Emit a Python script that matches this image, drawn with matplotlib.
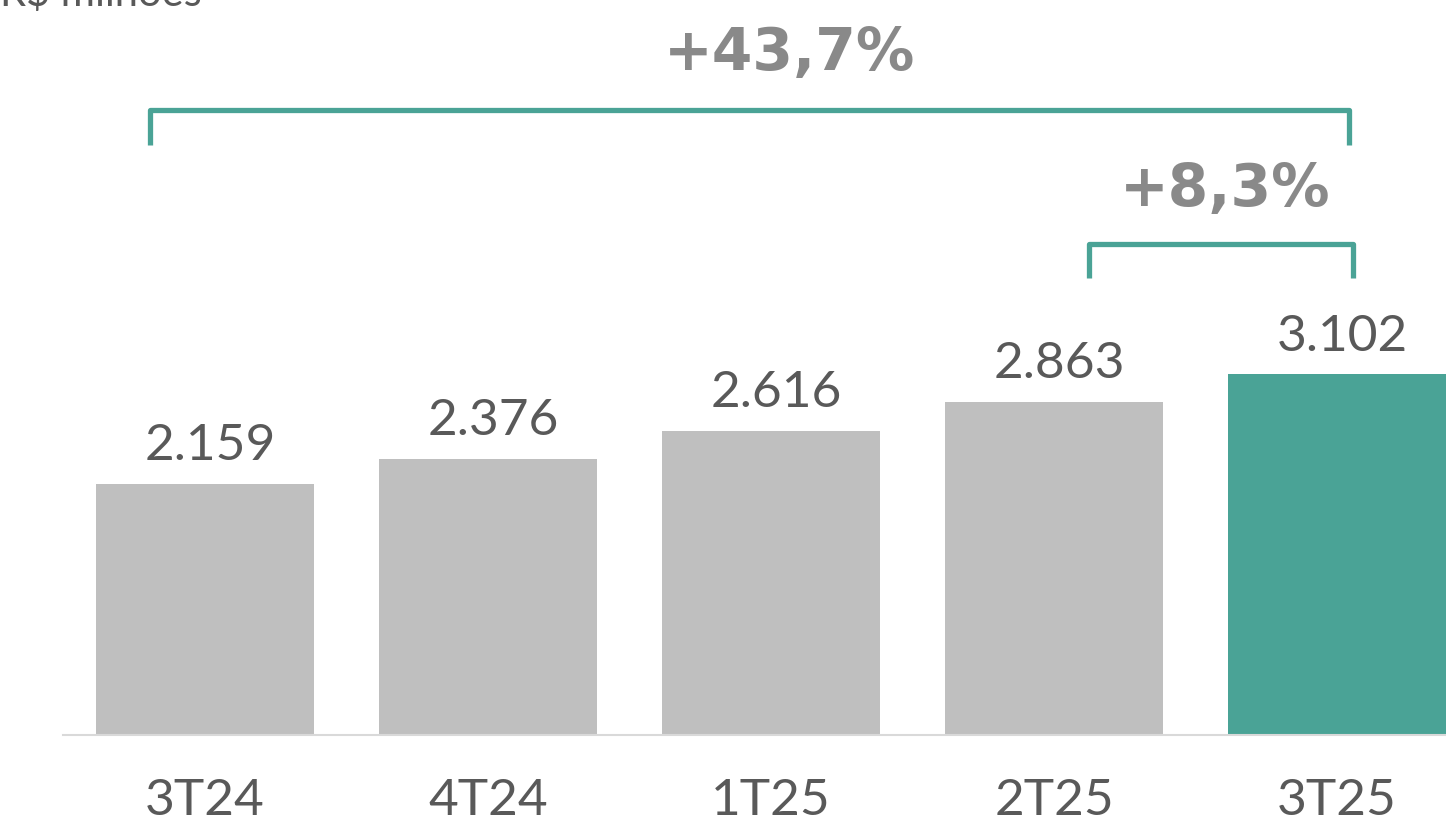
import matplotlib.pyplot as plt
from matplotlib.path import Path
from matplotlib.patches import PathPatch

quarters = ["3T24", "4T24", "1T25", "2T25", "3T25"]
values = [2159, 2376, 2616, 2863, 3102]
value_labels = ["2.159", "2.376", "2.616", "2.863", "3.102"]
growth_labels = ["+43,7%", "+8,3%"]

grey = "#bfbfbf"
teal = "#4aa396"
colors = [grey] * 4 + [teal]

plt.rcParams["font.family"] = ["Lato", "DejaVu Sans"]

fig = plt.figure(figsize=(14.46, 8.27), dpi=100)
ax = fig.add_axes([63 / 1446, 92 / 827, 1383 / 1446, 735 / 827])

x = range(len(quarters))
ax.bar(x, values, width=0.77, color=colors, zorder=2)

# data labels above bars
for i, (v, lab) in enumerate(zip(values, value_labels)):
    ax.text(i + 0.02, v + 205, lab, ha="center", va="baseline",
            fontsize=37, color="#595959")

ax.set_xlim(-0.502, 4.385)
ax.set_ylim(0, 6322)

for s in ["top", "right", "left"]:
    ax.spines[s].set_visible(False)
ax.spines["bottom"].set_color("#d9d9d9")
ax.spines["bottom"].set_linewidth(1.5)
ax.set_yticks([])
ax.set_xticks(list(x))
ax.set_xticklabels(quarters, fontsize=37, color="#595959")
ax.tick_params(axis="x", length=0, pad=31)


def bracket(x0, x1, y_top, y_bot):
    verts = [(x0, y_bot), (x0, y_top), (x1, y_top), (x1, y_bot)]
    codes = [Path.MOVETO, Path.LINETO, Path.LINETO, Path.LINETO]
    p = PathPatch(Path(verts, codes), fill=False, edgecolor=teal, lw=3.8,
                  joinstyle="round", capstyle="butt", zorder=3)
    ax.add_patch(p)


bracket(-0.194, 4.042, 5376, 5075)
bracket(3.124, 4.057, 4223, 3931)

ax.text(2.067, 5858, growth_labels[0], ha="center", va="center",
        fontsize=42, fontweight="bold", color="#898989",
        family=["DejaVu Sans"])
ax.text(3.604, 4688, growth_labels[1], ha="center", va="center",
        fontsize=42, fontweight="bold", color="#898989",
        family=["DejaVu Sans"])

fig.text(0.0, 1 - 6 / 827, "R$ milhões", ha="left", va="baseline",
         fontsize=30, color="#595959")

fig.savefig("out.png", dpi=100)
